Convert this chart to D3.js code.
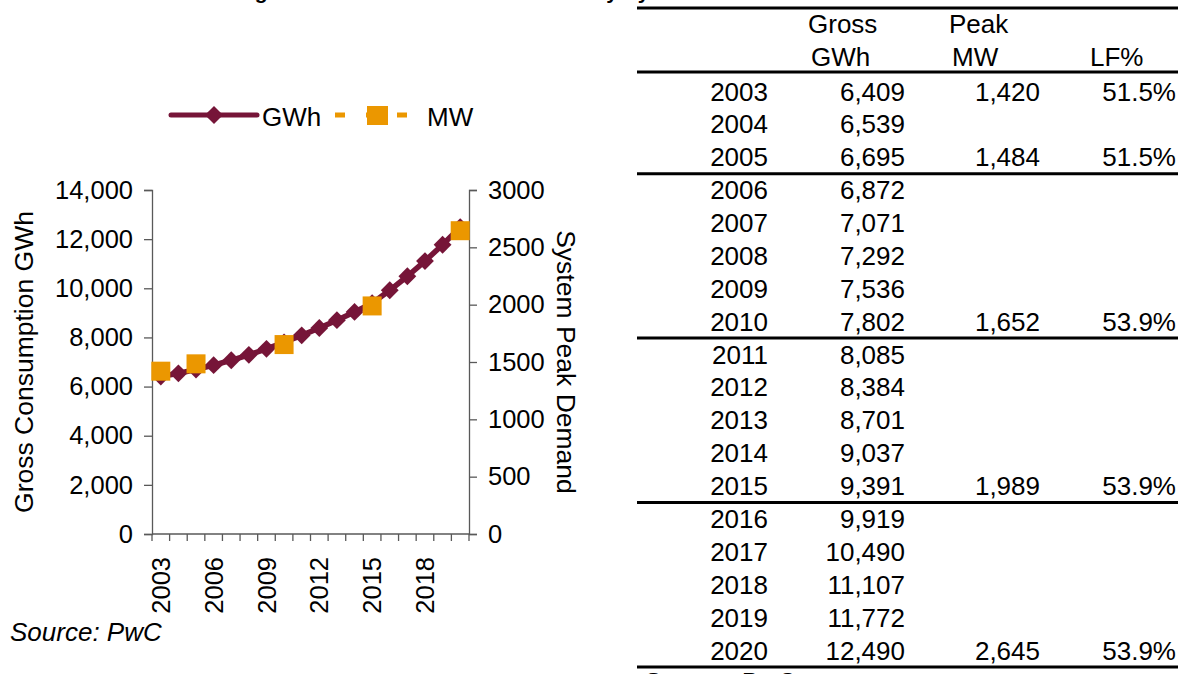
<!DOCTYPE html>
<html>
<head>
<meta charset="utf-8">
<script src="https://cdn.jsdelivr.net/npm/d3@7"></script>
<style>
  html, body { margin: 0; padding: 0; background: #fff; }
  svg { display: block; font-family: "Liberation Sans", Arial, Helvetica, sans-serif; }
</style>
</head>
<body>
<svg id="chart" width="1178" height="674"></svg>
<script>
// Forecast electricity demand, 2003-2020
const years = [2003, 2004, 2005, 2006, 2007, 2008, 2009, 2010, 2011, 2012,
               2013, 2014, 2015, 2016, 2017, 2018, 2019, 2020];
const grossGWh = [6409, 6539, 6695, 6872, 7071, 7292, 7536, 7802, 8085, 8384,
                  8701, 9037, 9391, 9919, 10490, 11107, 11772, 12490];
const peakYears = [2003, 2005, 2010, 2015, 2020];
const peakMW = [1420, 1484, 1652, 1989, 2645];
const loadFactor = [51.5, 51.5, 53.9, 53.9, 53.9];
const groupEnds = [2005, 2010, 2015, 2020];
const gwhTicks = [0, 2000, 4000, 6000, 8000, 10000, 12000, 14000];
const mwTicks = [0, 500, 1000, 1500, 2000, 2500, 3000];
const yearLabels = [2003, 2006, 2009, 2012, 2015, 2018];

const MAROON = "#761538";
const ORANGE = "#EB9700";
const AXIS = "#595959";

const svg = d3.select("#chart");

// Title (runs off the top edge of the page)
svg.append("text")
  .attr("x", 236).attr("y", -1.5)
  .attr("font-size", 21).attr("font-weight", "bold")
  .text("Figure 4.3: Forecast Annual Electricity System Peak Demand");

// ---------- chart ----------
const plot = { left: 152, right: 469, top: 190, bottom: 534 };

const x = d3.scaleBand().domain(years).range([plot.left, plot.right]).padding(0);
const yL = d3.scaleLinear().domain([0, 14000]).range([plot.bottom, plot.top]);
const yR = d3.scaleLinear().domain([0, 3000]).range([plot.bottom, plot.top]);
const cx = d => x(d) + x.bandwidth() / 2;

const fmt = d3.format(",");

const leftAxis = svg.append("g")
  .attr("transform", `translate(${plot.left},0)`)
  .call(d3.axisLeft(yL).tickValues(gwhTicks).tickFormat(fmt).tickSize(8).tickPadding(11));
const rightAxis = svg.append("g")
  .attr("transform", `translate(${plot.right},0)`)
  .call(d3.axisRight(yR).tickValues(mwTicks).tickFormat(d3.format("d")).tickSize(8).tickPadding(11));

[leftAxis, rightAxis].forEach(g => {
  g.selectAll("path.domain").attr("stroke", AXIS).attr("stroke-width", 1.3);
  g.selectAll(".tick line").attr("stroke", AXIS).attr("stroke-width", 1.3);
  g.selectAll(".tick text").attr("font-size", 25.5).attr("fill", "#000")
    .attr("font-family", "Liberation Sans, Arial, sans-serif");
});

// Category axis: ticks sit on band edges
const xAxis = svg.append("g");
xAxis.append("line")
  .attr("x1", plot.left).attr("x2", plot.right)
  .attr("y1", plot.bottom).attr("y2", plot.bottom)
  .attr("stroke", AXIS).attr("stroke-width", 1.3);
const edges = years.map(d => x(d)).concat([x(years[years.length - 1]) + x.bandwidth()]);
xAxis.selectAll("line.edge").data(edges).join("line")
  .attr("class", "edge")
  .attr("x1", d => d).attr("x2", d => d)
  .attr("y1", plot.bottom).attr("y2", plot.bottom + 7)
  .attr("stroke", AXIS).attr("stroke-width", 1.3);
xAxis.selectAll("text").data(yearLabels).join("text")
  .attr("transform", d => `translate(${cx(d)},557) rotate(-90)`)
  .attr("text-anchor", "end")
  .attr("dy", "0.36em")
  .attr("font-size", 25.5)
  .text(d => d);

// Axis titles
svg.append("text")
  .attr("transform", `translate(33,${(plot.top + plot.bottom) / 2}) rotate(-90)`)
  .attr("text-anchor", "middle")
  .attr("font-size", 26.5)
  .text("Gross Consumption GWh");
svg.append("text")
  .attr("transform", `translate(557,${(plot.top + plot.bottom) / 2}) rotate(90)`)
  .attr("text-anchor", "middle")
  .attr("font-size", 26.5)
  .text("System Peak Demand");

// GWh series: line with diamond markers
const gwhData = years.map((y, i) => ({ year: y, value: grossGWh[i] }));
svg.append("path")
  .datum(gwhData)
  .attr("fill", "none")
  .attr("stroke", MAROON)
  .attr("stroke-width", 5.5)
  .attr("stroke-linejoin", "round")
  .attr("d", d3.line().x(d => cx(d.year)).y(d => yL(d.value)));
svg.selectAll("path.dia").data(gwhData).join("path")
  .attr("class", "dia")
  .attr("fill", MAROON)
  .attr("transform", d => `translate(${cx(d.year)},${yL(d.value)}) rotate(45)`)
  .attr("d", "M-6.3,-6.3H6.3V6.3H-6.3Z");

// MW series: square markers only (years without values leave gaps)
const mwData = peakYears.map((y, i) => ({ year: y, value: peakMW[i] }));
svg.selectAll("rect.mw").data(mwData).join("rect")
  .attr("class", "mw")
  .attr("fill", ORANGE)
  .attr("x", d => cx(d.year) - 9.5).attr("y", d => yR(d.value) - 9.5)
  .attr("width", 19).attr("height", 19);

// Legend
const legend = svg.append("g");
legend.append("line")
  .attr("x1", 171).attr("x2", 257).attr("y1", 115).attr("y2", 115)
  .attr("stroke", MAROON).attr("stroke-width", 5).attr("stroke-linecap", "round");
legend.append("path")
  .attr("transform", "translate(214,115) rotate(45)")
  .attr("d", "M-6.4,-6.4H6.4V6.4H-6.4Z")
  .attr("fill", MAROON);
legend.append("text").attr("x", 262).attr("y", 125.5).attr("font-size", 26).text("GWh");
legend.append("line")
  .attr("x1", 335).attr("x2", 407).attr("y1", 115).attr("y2", 115)
  .attr("stroke", ORANGE).attr("stroke-width", 5).attr("stroke-dasharray", "10,21");
legend.append("rect")
  .attr("x", 367).attr("y", 106).attr("width", 21).attr("height", 19)
  .attr("fill", ORANGE);
legend.append("text").attr("x", 427).attr("y", 125.5).attr("font-size", 26).text("MW");

// Source note
svg.append("text")
  .attr("x", 10).attr("y", 641)
  .attr("font-size", 26).attr("font-style", "italic")
  .text("Source: PwC");

// ---------- table ----------
const tbl = { left: 637, right: 1178 };
const rowY = d3.scaleLinear().domain([0, 17]).range([91, 650]);
const colYear = 768, colGross = 905, colPeak = 1040, colLF = 1176;

const rule = y => svg.append("line")
  .attr("x1", tbl.left).attr("x2", tbl.right)
  .attr("y1", y).attr("y2", y)
  .attr("stroke", "#000").attr("stroke-width", 3);

rule(8);
rule(72);

const header = svg.append("g").attr("font-size", 26);
header.append("text").attr("x", 808).attr("y", 33).text("Gross");
header.append("text").attr("x", 811).attr("y", 66).text("GWh");
header.append("text").attr("x", 949).attr("y", 33).text("Peak");
header.append("text").attr("x", 952).attr("y", 66).text("MW");
header.append("text").attr("x", 1090).attr("y", 66).text("LF%");

const rows = svg.append("g").attr("font-size", 26).attr("text-anchor", "end");
years.forEach((yr, i) => {
  const base = rowY(i) + 9.5;
  rows.append("text").attr("x", colYear).attr("y", base).text(yr);
  rows.append("text").attr("x", colGross).attr("y", base).text(fmt(grossGWh[i]));
  const k = peakYears.indexOf(yr);
  if (k >= 0) {
    rows.append("text").attr("x", colPeak).attr("y", base).text(fmt(peakMW[k]));
    rows.append("text").attr("x", colLF).attr("y", base).text(loadFactor[k].toFixed(1) + "%");
  }
  if (groupEnds.includes(yr)) rule(rowY(i + 0.5) + 0.5);
});

// Table source note (runs off the bottom edge)
svg.append("text")
  .attr("x", 643).attr("y", 691)
  .attr("font-size", 26).attr("font-style", "italic")
  .text("Source: PwC");
</script>
</body>
</html>
